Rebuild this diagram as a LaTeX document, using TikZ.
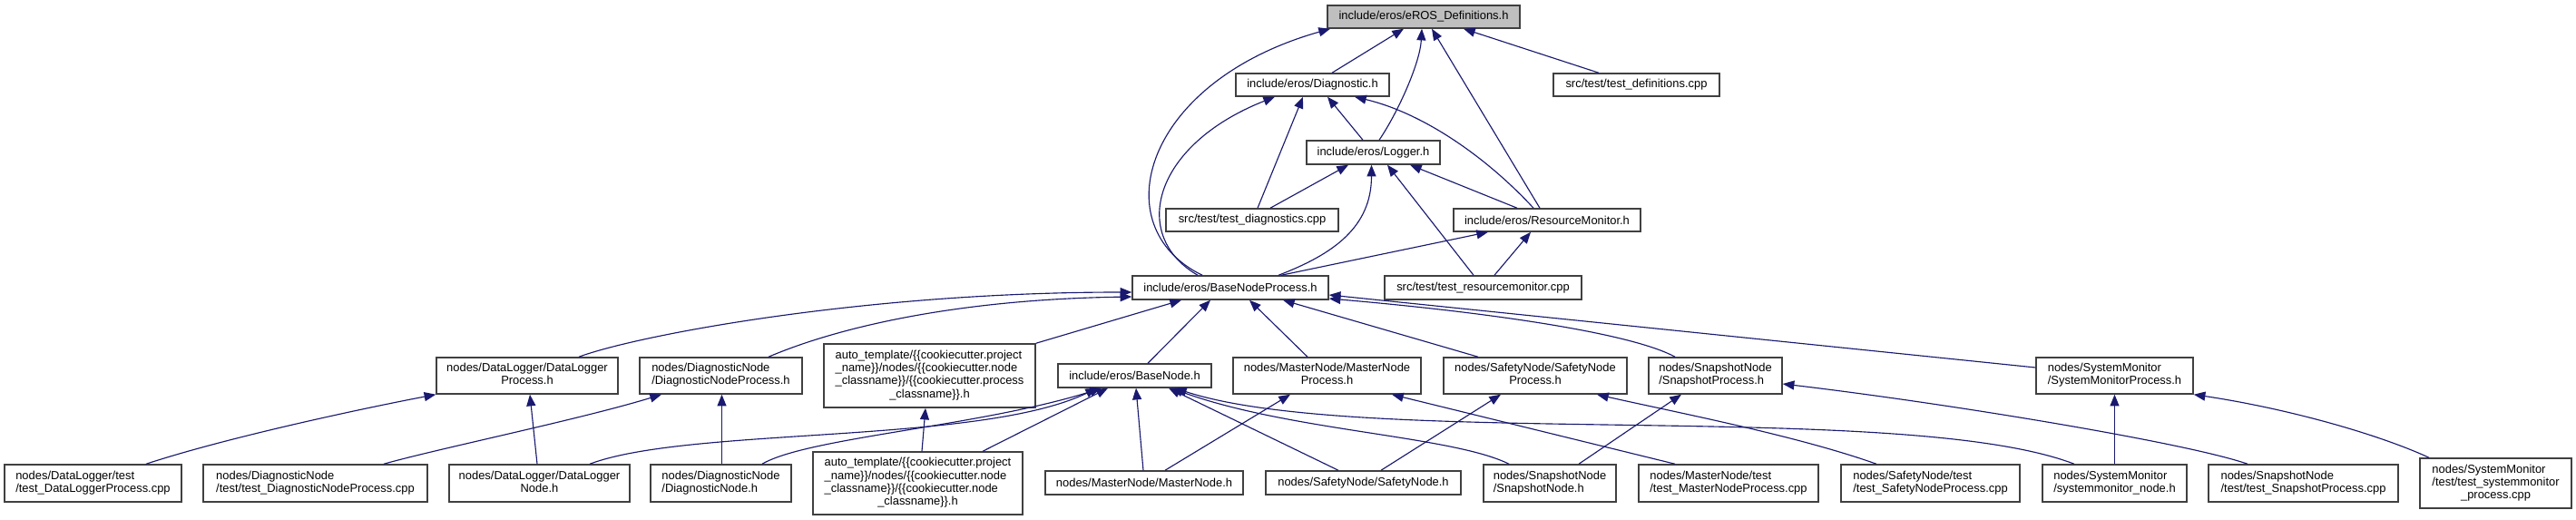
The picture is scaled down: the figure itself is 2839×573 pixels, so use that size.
\documentclass[tikz,border=0pt]{standalone}
\usepackage{fontspec}
\setmainfont{Liberation Sans}
\usetikzlibrary{arrows.meta}
\definecolor{edgec}{HTML}{191970}
\definecolor{boxc}{HTML}{404040}
\definecolor{rootc}{HTML}{BFBFBF}
\newcommand{\gfs}{\fontsize{9.7}{10.7}\selectfont}
\newcommand{\lc}[1]{\multicolumn{1}{@{}c@{}}{#1}}
\newcommand{\tl}[1]{\begin{tabular}{@{}l@{}}#1\end{tabular}}
\newcommand{\bnode}[7][white]{\node[box, fill=#1, minimum width={(#5-#3)*0.75pt}, minimum height={(#6-#4)*0.75pt}] (#2) at ({(#3+#5)/2},{(#4+#6)/2}) {#7};}
\tikzset{
  box/.style={draw=boxc, line width=1.1pt, inner sep=0pt, font=\gfs, text=black},
  dep/.style={draw=edgec, line width=0.85pt, -{Triangle[length=9.5pt,width=7.5pt]}, fill=none},
}
\begin{document}
\begin{tikzpicture}[x=0.75pt,y=-0.75pt]
\useasboundingbox[fill=white] (0,0) rectangle (2839,573);
% row 0
\bnode[rootc]{R}{1463}{6}{1675}{31}{include/eros/eROS\_Definitions.h}
% row 1
\bnode{DG}{1362}{81}{1531}{106}{include/eros/Diagnostic.h}
\bnode{TD}{1712}{81}{1895}{106}{src/test/test\_definitions.cpp}
% row 2
\bnode{LG}{1440}{155}{1587}{181}{include/eros/Logger.h}
% row 3
\bnode{TDG}{1285}{230}{1475}{255}{src/test/test\_diagnostics.cpp}
\bnode{RM}{1602}{230}{1808}{255}{include/eros/ResourceMonitor.h}
% row 4
\bnode{BNP}{1248}{304}{1464}{330}{include/eros/BaseNodeProcess.h}
\bnode{TRM}{1526}{304}{1743}{330}{src/test/test\_resourcemonitor.cpp}
% row 5
\bnode{DLP}{481}{394}{681}{434}{\tl{nodes/DataLogger/DataLogger\\\lc{Process.h}}}
\bnode{DNP}{705}{394}{884}{434}{\tl{nodes/DiagnosticNode\\/DiagnosticNodeProcess.h}}
\bnode{ATP}{908}{379}{1141}{449}{\tl{auto\_template/\{\{cookiecutter.project\\\_name\}\}/nodes/\{\{cookiecutter.node\\\_classname\}\}/\{\{cookiecutter.process\\\lc{\_classname\}\}.h}}}
\bnode{BN}{1166}{401}{1335}{427}{include/eros/BaseNode.h}
\bnode{MNP}{1359}{394}{1566}{434}{\tl{nodes/MasterNode/MasterNode\\\lc{Process.h}}}
\bnode{SNP}{1591}{394}{1793}{434}{\tl{nodes/SafetyNode/SafetyNode\\\lc{Process.h}}}
\bnode{SPP}{1817}{394}{1964}{434}{\tl{nodes/SnapshotNode\\/SnapshotProcess.h}}
\bnode{SMP}{2244}{394}{2417}{434}{\tl{nodes/SystemMonitor\\/SystemMonitorProcess.h}}
% row 6
\bnode{TDLP}{5}{512}{200}{553}{\tl{nodes/DataLogger/test\\/test\_DataLoggerProcess.cpp}}
\bnode{TDNP}{224}{512}{471}{553}{\tl{nodes/DiagnosticNode\\/test/test\_DiagnosticNodeProcess.cpp}}
\bnode{DLN}{495}{512}{694}{553}{\tl{nodes/DataLogger/DataLogger\\\lc{Node.h}}}
\bnode{DN}{717}{512}{872}{553}{\tl{nodes/DiagnosticNode\\/DiagnosticNode.h}}
\bnode{ATN}{896}{498}{1127}{567}{\tl{auto\_template/\{\{cookiecutter.project\\\_name\}\}/nodes/\{\{cookiecutter.node\\\_classname\}\}/\{\{cookiecutter.node\\\lc{\_classname\}\}.h}}}
\bnode{MN}{1152}{519}{1370}{545}{nodes/MasterNode/MasterNode.h}
\bnode{SN}{1395}{519}{1610}{545}{nodes/SafetyNode/SafetyNode.h}
\bnode{SSN}{1635}{512}{1781}{553}{\tl{nodes/SnapshotNode\\/SnapshotNode.h}}
\bnode{TMNP}{1806}{512}{2004}{553}{\tl{nodes/MasterNode/test\\/test\_MasterNodeProcess.cpp}}
\bnode{TSNP}{2029}{512}{2226}{553}{\tl{nodes/SafetyNode/test\\/test\_SafetyNodeProcess.cpp}}
\bnode{SMN}{2251}{512}{2410}{553}{\tl{nodes/SystemMonitor\\/systemmonitor\_node.h}}
\bnode{TSPP}{2434}{512}{2643}{553}{\tl{nodes/SnapshotNode\\/test/test\_SnapshotProcess.cpp}}
\bnode{TSMP}{2667}{505}{2834}{560}{\tl{nodes/SystemMonitor\\/test/test\_systemmonitor\\\lc{\_process.cpp}}}
% edges to eROS_Definitions.h
\draw[dep] (1468,0 |- DG.north) -- (1547,0 |- R.south);
\draw[dep] (1520,0 |- LG.north) .. controls (1540,125) and (1565,70) .. (1567,0 |- R.south);
\draw[dep] (1697,0 |- RM.north) -- (1578,0 |- R.south);
\draw[dep] (1762,0 |- TD.north) -- (1613,0 |- R.south);
\draw[dep] (1325,0 |- BNP.north) .. controls (1215,250) and (1260,90) .. (1466,0 |- R.south);
% edges to Diagnostic.h
\draw[dep] (1502,0 |- LG.north) -- (1463,0 |- DG.south);
\draw[dep] (1386,0 |- TDG.north) -- (1436,0 |- DG.south);
\draw[dep] (1690,0 |- RM.north) .. controls (1640,175) and (1570,125) .. (1493,0 |- DG.south);
\draw[dep] (1320,0 |- BNP.north) .. controls (1245,260) and (1270,160) .. (1405,0 |- DG.south);
% edges to Logger.h
\draw[dep] (1400,0 |- TDG.north) -- (1486,0 |- LG.south);
\draw[dep] (1672,0 |- RM.north) -- (1554,0 |- LG.south);
\draw[dep] (1409,0 |- BNP.north) .. controls (1470,280) and (1511.5,250) .. (1511.5,0 |- LG.south);
\draw[dep] (1624,0 |- TRM.north) -- (1529,0 |- LG.south);
% edges to ResourceMonitor.h
\draw[dep] (1412,0 |- BNP.north) -- (1640,0 |- RM.south);
\draw[dep] (1647,0 |- TRM.north) -- (1687,0 |- RM.south);
% edges to BaseNodeProcess.h
\draw[dep] (638,0 |- DLP.north) .. controls (700,370) and (950,322) .. (BNP.west |- 0,322);
\draw[dep] (847,0 |- DNP.north) .. controls (920,362) and (1050,330) .. (BNP.west |- 0,327);
\draw[dep] (ATP.north east) -- (1302,0 |- BNP.south);
\draw[dep] (1265,0 |- BN.north) -- (1334,0 |- BNP.south);
\draw[dep] (1441,0 |- MNP.north) -- (1377,0 |- BNP.south);
\draw[dep] (1629,0 |- SNP.north) -- (1414,0 |- BNP.south);
\draw[dep] (1846,0 |- SPP.north) .. controls (1800,368) and (1650,345) .. (BNP.east |- 0,329);
\draw[dep] (SMP.west |- 0,405) -- (BNP.east |- 0,325);
% edges to DataLogger Process.h
\draw[dep] (161,0 |- TDLP.north) .. controls (250,482) and (400,450) .. (DLP.south west);
\draw[dep] (592,0 |- DLN.north) -- (584,0 |- DLP.south);
% edges to DiagnosticNodeProcess.h
\draw[dep] (423,0 |- TDNP.north) .. controls (480,495) and (640,462) .. (729,0 |- DNP.south);
\draw[dep] (795.5,0 |- DN.north) -- (795.5,0 |- DNP.south);
% edge to auto_template process
\draw[dep] (1016,0 |- ATN.north) -- (1020,0 |- ATP.south);
% edges to BaseNode.h
\draw[dep] (650,0 |- DLN.north) .. controls (760,470) and (1080,490) .. (1209,0 |- BN.south);
\draw[dep] (840,0 |- DN.north) .. controls (890,482) and (1080,470) .. (1214,0 |- BN.south);
\draw[dep] (1083,0 |- ATN.north) -- (1221,0 |- BN.south);
\draw[dep] (1260,0 |- MN.north) -- (1252,0 |- BN.south);
\draw[dep] (1475,0 |- SN.north) -- (1288,0 |- BN.south);
\draw[dep] (1663,0 |- SSN.north) .. controls (1600,480) and (1420,475) .. (1291,0 |- BN.south);
\draw[dep] (2286,0 |- SMN.north) .. controls (2100,440) and (1500,495) .. (1295,0 |- BN.south);
% edges to MasterNodeProcess.h
\draw[dep] (1284,0 |- MN.north) -- (1422,0 |- MNP.south);
\draw[dep] (1846,0 |- TMNP.north) -- (1534,0 |- MNP.south);
% edges to SafetyNodeProcess.h
\draw[dep] (1522,0 |- SN.north) -- (1654,0 |- SNP.south);
\draw[dep] (2068,0 |- TSNP.north) .. controls (1980,480) and (1850,455) .. (1760,0 |- SNP.south);
% edges to SnapshotProcess.h
\draw[dep] (1740,0 |- SSN.north) -- (1853,0 |- SPP.south);
\draw[dep] (2477,0 |- TSPP.north) .. controls (2410,488) and (2150,445) .. (SPP.east |- 0,423);
% edges to SystemMonitorProcess.h
\draw[dep] (2330.5,0 |- SMN.north) -- (2330.5,0 |- SMP.south);
\draw[dep] (2677,0 |- TSMP.north) .. controls (2620,478) and (2520,450) .. (SMP.south east);
\end{tikzpicture}
\end{document}
